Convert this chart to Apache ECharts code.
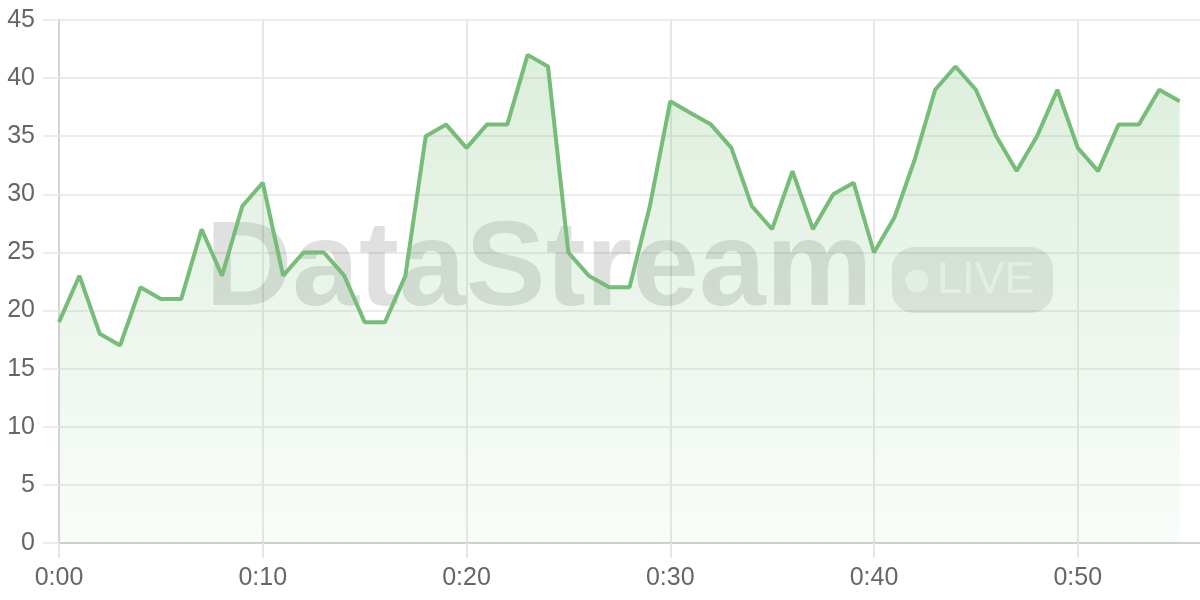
<!DOCTYPE html>
<html>
<head>
<meta charset="utf-8">
<script src="https://cdn.jsdelivr.net/npm/echarts@6/dist/echarts.min.js"></script>
<style>
html,body{margin:0;padding:0;background:#fff;}
#chart{width:1200px;height:600px;}
</style>
</head>
<body>
<div id="chart"></div>
<script>
// seconds elapsed for each sample (one per second)
const seconds = [0,1,2,3,4,5,6,7,8,9,10,11,12,13,14,15,16,17,18,19,20,21,22,23,24,25,26,27,28,29,30,31,32,33,34,35,36,37,38,39,40,41,42,43,44,45,46,47,48,49,50,51,52,53,54,55];
const values = [19,23,18,17,22,21,21,27,23,29,31,23,25,25,23,19,19,23,35,36,34,36,36,42,41,25,23,22,22,29,38,37,36,34,29,27,32,27,30,31,25,28,33,39,41,39,35,32,35,39,34,32,36,36,39,38];
const xTicks = [0,10,20,30,40,50];
const yTicks = [0,5,10,15,20,25,30,35,40,45];
const watermarkText = 'DataStream';
const badgeText = 'LIVE';

const chart = echarts.init(document.getElementById('chart'), null, {renderer:'canvas'});
const fmt = v => Math.floor(v/60) + ':' + String(v%60).padStart(2,'0');
const labelFont = '"Liberation Sans", Arial, Helvetica, sans-serif';

chart.setOption({
  animation:false,
  backgroundColor:'#fff',
  grid:{left:59, right:0, top:20, bottom:57, containLabel:false},
  xAxis:{
    type:'value', min:0, max:56, interval:10,
    axisLine:{show:true, lineStyle:{color:'#cfcfcf', width:2}},
    axisTick:{show:true, length:15, customValues:xTicks, lineStyle:{color:'#e6e6e6', width:2}},
    splitLine:{show:true, lineStyle:{color:'#e8e8e8', width:2}},
    axisLabel:{
      color:'#666', fontSize:25, fontFamily:labelFont, margin:23,
      customValues:xTicks,
      formatter: v => fmt(v)
    }
  },
  yAxis:{
    type:'value', min:yTicks[0], max:yTicks[yTicks.length-1], interval:5,
    axisLine:{show:true, lineStyle:{color:'#d4d4d4', width:2}},
    axisTick:{show:true, length:16, lineStyle:{color:'#ececec', width:2}},
    splitLine:{show:true, lineStyle:{color:'#ececec', width:2}},
    axisLabel:{color:'#666', fontSize:25, fontFamily:labelFont, margin:24}
  },
  graphic:[
    {
      type:'text', z:1, x:539, y:272,
      style:{
        text:watermarkText, fill:'rgba(0,0,0,0.12)',
        textAlign:'center', textVerticalAlign:'middle',
        font:'bold 120px "Liberation Sans", Arial, Helvetica, sans-serif'
      }
    },
    {type:'rect', z:1, shape:{x:892,y:247,width:161,height:66,r:22}, style:{fill:'rgba(0,0,0,0.09)'}},
    {type:'circle', z:1, shape:{cx:917,cy:281,r:11.5}, style:{fill:'rgba(255,255,255,0.65)'}},
    {type:'text', z:1, x:937, y:281, style:{text:badgeText, fill:'rgba(255,255,255,0.65)', textVerticalAlign:'middle', font:'500 45px "Liberation Sans", Arial, Helvetica, sans-serif'}}
  ],
  series:[{
    type:'line',
    data: seconds.map((s,i)=>[s, values[i]]),
    showSymbol:false,
    smooth:false,
    z:3,
    lineStyle:{color:'#76bd78', width:4},
    itemStyle:{color:'#76bd78'},
    areaStyle:{
      color:new echarts.graphic.LinearGradient(0,0,0,1,[
        {offset:0, color:'rgba(120,190,120,0.36)'},
        {offset:1, color:'rgba(120,190,120,0.06)'}
      ])
    }
  }]
});
</script>
</body>
</html>
